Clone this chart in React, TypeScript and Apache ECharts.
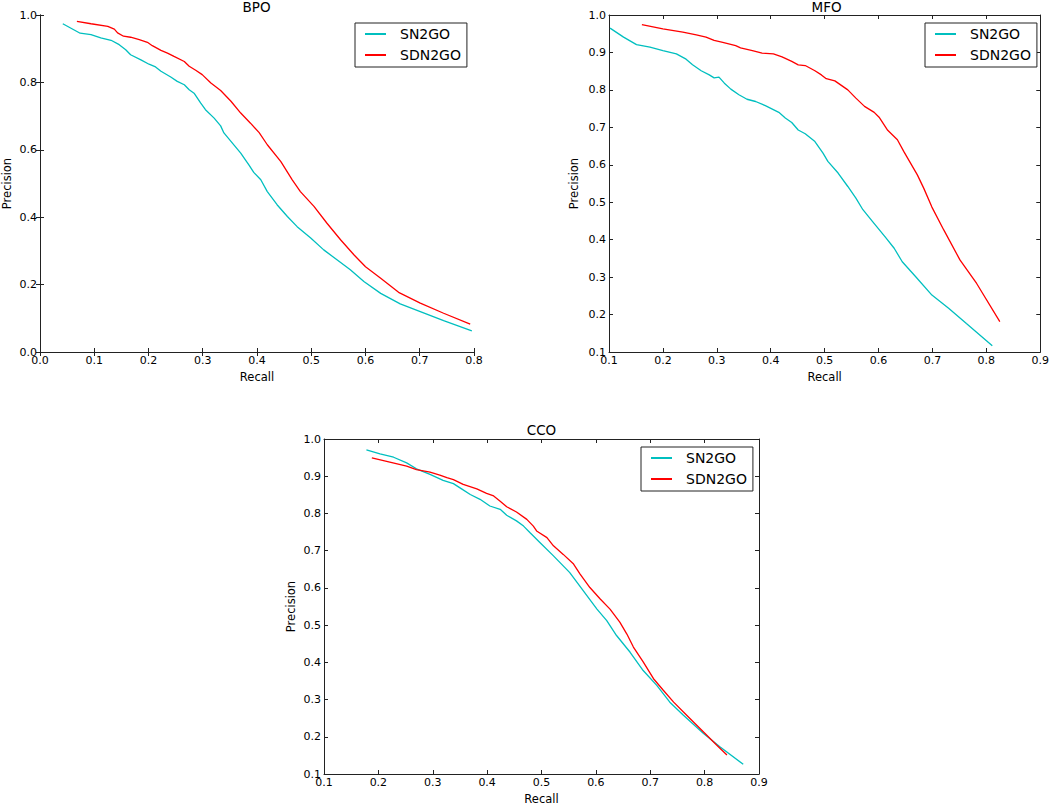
import React, { useEffect, useRef } from "react";
import * as echarts from "echarts";

// ---------- Data ----------
const seriesNames = ["SN2GO", "SDN2GO"];
const panelTitles = ["BPO", "MFO", "CCO"];

const bpoSn2goRecall = [0.042, 0.074, 0.094, 0.112, 0.131, 0.146, 0.158, 0.167, 0.186, 0.201, 0.213, 0.223, 0.241, 0.253, 0.266, 0.275, 0.284, 0.296, 0.305, 0.321, 0.333, 0.339, 0.352, 0.37, 0.385, 0.394, 0.407, 0.419, 0.437, 0.456, 0.474, 0.499, 0.523, 0.548, 0.572, 0.597, 0.628, 0.664, 0.701, 0.744, 0.796];
const bpoSn2goPrecision = [0.974, 0.946, 0.942, 0.932, 0.925, 0.912, 0.897, 0.882, 0.867, 0.854, 0.846, 0.833, 0.816, 0.803, 0.793, 0.778, 0.768, 0.739, 0.719, 0.694, 0.671, 0.65, 0.625, 0.59, 0.555, 0.533, 0.511, 0.476, 0.437, 0.402, 0.372, 0.338, 0.303, 0.273, 0.244, 0.209, 0.174, 0.143, 0.12, 0.093, 0.063];

const bpoSdn2goRecall = [0.068, 0.094, 0.125, 0.137, 0.143, 0.154, 0.167, 0.183, 0.198, 0.207, 0.223, 0.235, 0.247, 0.266, 0.275, 0.287, 0.299, 0.315, 0.333, 0.352, 0.37, 0.388, 0.404, 0.419, 0.444, 0.465, 0.48, 0.505, 0.529, 0.554, 0.579, 0.6, 0.628, 0.661, 0.701, 0.744, 0.793];
const bpoSdn2goPrecision = [0.981, 0.974, 0.966, 0.958, 0.947, 0.937, 0.934, 0.927, 0.919, 0.909, 0.895, 0.887, 0.877, 0.862, 0.848, 0.836, 0.823, 0.798, 0.776, 0.744, 0.709, 0.679, 0.651, 0.615, 0.565, 0.511, 0.476, 0.432, 0.382, 0.333, 0.288, 0.253, 0.219, 0.177, 0.145, 0.115, 0.083];

const mfoSn2goRecall = [0.102, 0.127, 0.151, 0.176, 0.2, 0.225, 0.243, 0.255, 0.271, 0.286, 0.295, 0.304, 0.314, 0.326, 0.341, 0.356, 0.372, 0.39, 0.415, 0.427, 0.439, 0.451, 0.464, 0.482, 0.497, 0.506, 0.525, 0.543, 0.558, 0.571, 0.589, 0.613, 0.629, 0.644, 0.669, 0.699, 0.73, 0.763, 0.811];
const mfoSn2goPrecision = [0.965, 0.941, 0.921, 0.914, 0.905, 0.896, 0.882, 0.867, 0.851, 0.84, 0.832, 0.834, 0.818, 0.802, 0.787, 0.775, 0.769, 0.758, 0.74, 0.725, 0.713, 0.693, 0.683, 0.662, 0.631, 0.609, 0.578, 0.542, 0.511, 0.48, 0.448, 0.406, 0.377, 0.341, 0.301, 0.252, 0.217, 0.176, 0.117];

const mfoSdn2goRecall = [0.161, 0.2, 0.237, 0.262, 0.28, 0.295, 0.311, 0.335, 0.344, 0.366, 0.384, 0.405, 0.421, 0.439, 0.451, 0.464, 0.482, 0.494, 0.503, 0.519, 0.543, 0.558, 0.574, 0.592, 0.601, 0.617, 0.635, 0.647, 0.672, 0.684, 0.699, 0.721, 0.751, 0.782, 0.825];
const mfoSdn2goPrecision = [0.974, 0.963, 0.954, 0.947, 0.941, 0.932, 0.927, 0.918, 0.912, 0.905, 0.898, 0.896, 0.888, 0.876, 0.867, 0.865, 0.851, 0.84, 0.83, 0.824, 0.8, 0.778, 0.756, 0.74, 0.727, 0.692, 0.667, 0.635, 0.573, 0.537, 0.487, 0.426, 0.346, 0.283, 0.181];

const ccoSn2goRecall = [0.178, 0.203, 0.228, 0.252, 0.27, 0.295, 0.307, 0.319, 0.338, 0.353, 0.369, 0.387, 0.405, 0.424, 0.436, 0.454, 0.467, 0.479, 0.497, 0.522, 0.552, 0.577, 0.602, 0.62, 0.638, 0.663, 0.687, 0.712, 0.736, 0.761, 0.798, 0.828, 0.871];
const ccoSn2goPrecision = [0.971, 0.96, 0.951, 0.936, 0.92, 0.905, 0.897, 0.889, 0.88, 0.866, 0.851, 0.838, 0.82, 0.811, 0.795, 0.78, 0.766, 0.748, 0.722, 0.686, 0.641, 0.592, 0.543, 0.512, 0.472, 0.427, 0.378, 0.338, 0.293, 0.258, 0.209, 0.173, 0.126];

const ccoSdn2goRecall = [0.188, 0.221, 0.252, 0.27, 0.295, 0.313, 0.326, 0.338, 0.356, 0.381, 0.399, 0.412, 0.424, 0.436, 0.454, 0.473, 0.485, 0.491, 0.51, 0.522, 0.54, 0.559, 0.571, 0.589, 0.608, 0.626, 0.644, 0.657, 0.669, 0.687, 0.706, 0.724, 0.743, 0.767, 0.798, 0.822, 0.841];
const ccoSdn2goPrecision = [0.949, 0.938, 0.927, 0.918, 0.911, 0.903, 0.896, 0.891, 0.878, 0.866, 0.854, 0.847, 0.833, 0.818, 0.804, 0.784, 0.766, 0.753, 0.735, 0.713, 0.69, 0.664, 0.637, 0.601, 0.57, 0.543, 0.508, 0.476, 0.441, 0.401, 0.356, 0.325, 0.293, 0.258, 0.213, 0.178, 0.151];

// axis ranges per panel
const xRanges = [[0, 0.8], [0.1, 0.9], [0.1, 0.9]];
const yRanges = [[0, 1.0, 0.2], [0.1, 1.0, 0.1], [0.1, 1.0, 0.1]];

const zip = (xs: number[], ys: number[]) => xs.map((x, i) => [x, ys[i]]);

const FONT = "DejaVu Sans";
const CYAN = "#00BFBF";
const RED = "#FF0000";

export default function App() {
  const ref = useRef<HTMLDivElement>(null);

  useEffect(() => {
    document.body.style.margin = "0";
    if (!ref.current) return;
    const chart = echarts.init(ref.current, undefined, { renderer: "svg" });

    const grids = [
      { left: 39, top: 15, width: 435, height: 337 },
      { left: 609, top: 15, width: 435, height: 337 },
      { left: 324, top: 439, width: 435, height: 336 },
    ];
    const yNameGaps = [27, 29, 27];
    const legendPos = [
      { left: 355, top: 23 },
      { left: 925, top: 23 },
      { left: 641, top: 447 },
    ];

    const fmt = (v: number) => v.toFixed(1);
    const axisLine = { show: true, lineStyle: { color: "#222", width: 1 } };
    const axisTick = { show: true, inside: true, length: 4, lineStyle: { color: "#222" } };

    const xAxes: any[] = [];
    const yAxes: any[] = [];
    for (let i = 0; i < 3; i++) {
      xAxes.push({
        gridIndex: i,
        type: "value",
        position: "bottom",
        min: xRanges[i][0],
        max: xRanges[i][1],
        interval: 0.1,
        axisLine,
        axisTick,
        splitLine: { show: false },
        axisLabel: { color: "#000", fontSize: 11, fontFamily: FONT, margin: 3, formatter: fmt },
        name: "Recall",
        nameLocation: "middle",
        nameGap: 19,
        nameTextStyle: { color: "#000", fontSize: 11.5, fontFamily: FONT },
      });
      yAxes.push({
        gridIndex: i,
        type: "value",
        position: "left",
        min: yRanges[i][0],
        max: yRanges[i][1],
        interval: yRanges[i][2],
        axisLine,
        axisTick,
        splitLine: { show: false },
        axisLabel: { color: "#000", fontSize: 11, fontFamily: FONT, margin: 3, formatter: fmt },
        name: "Precision",
        nameLocation: "middle",
        nameGap: yNameGaps[i],
        nameTextStyle: { color: "#000", fontSize: 11.5, fontFamily: FONT },
      });
    }
    for (let i = 0; i < 3; i++) {
      xAxes.push({
        gridIndex: i,
        type: "value",
        position: "top",
        min: xRanges[i][0],
        max: xRanges[i][1],
        interval: 0.1,
        axisLine,
        axisTick,
        splitLine: { show: false },
        axisLabel: { show: false },
      });
      yAxes.push({
        gridIndex: i,
        type: "value",
        position: "right",
        min: yRanges[i][0],
        max: yRanges[i][1],
        interval: yRanges[i][2],
        axisLine,
        axisTick,
        splitLine: { show: false },
        axisLabel: { show: false },
      });
    }

    const panelData = [
      [zip(bpoSn2goRecall, bpoSn2goPrecision), zip(bpoSdn2goRecall, bpoSdn2goPrecision)],
      [zip(mfoSn2goRecall, mfoSn2goPrecision), zip(mfoSdn2goRecall, mfoSdn2goPrecision)],
      [zip(ccoSn2goRecall, ccoSn2goPrecision), zip(ccoSdn2goRecall, ccoSdn2goPrecision)],
    ];
    const colors = [CYAN, RED];
    const series: any[] = [];
    for (let i = 0; i < 3; i++) {
      for (let s = 0; s < 2; s++) {
        series.push({
          type: "line",
          name: seriesNames[s],
          xAxisIndex: i,
          yAxisIndex: i,
          data: panelData[i][s],
          symbol: "none",
          showSymbol: false,
          color: colors[s],
          lineStyle: { color: colors[s], width: 1.3 },
          emphasis: { disabled: true },
        });
      }
    }

    const legends = legendPos.map((p) => ({
      orient: "vertical",
      left: p.left,
      top: p.top,
      data: seriesNames,
      selectedMode: false,
      padding: [4, 6, 5, 10],
      borderColor: "#222",
      borderWidth: 1,
      backgroundColor: "#fff",
      itemWidth: 21,
      itemHeight: 2,
      itemGap: 7,
      icon: "rect",
      textStyle: { color: "#000", fontSize: 14, fontFamily: FONT, lineHeight: 14, padding: [0, 0, 0, 9] },
    }));

    const titleCenters = [
      { x: 256.5, y: 7 },
      { x: 826.5, y: 7 },
      { x: 541.5, y: 430 },
    ];
    const graphics = titleCenters.map((c, i) => ({
      type: "text",
      x: c.x,
      y: c.y,
      style: {
        text: panelTitles[i],
        fill: "#000",
        fontSize: 13.5,
        fontFamily: FONT,
        fontWeight: "normal",
        textAlign: "center",
        textVerticalAlign: "middle",
      },
    }));

    chart.setOption({
      animation: false,
      backgroundColor: "#fff",
      grid: grids,
      xAxis: xAxes,
      yAxis: yAxes,
      legend: legends,
      series,
      graphic: graphics,
    });

    return () => chart.dispose();
  }, []);

  return <div ref={ref} style={{ width: 1052, height: 806 }} />;
}
